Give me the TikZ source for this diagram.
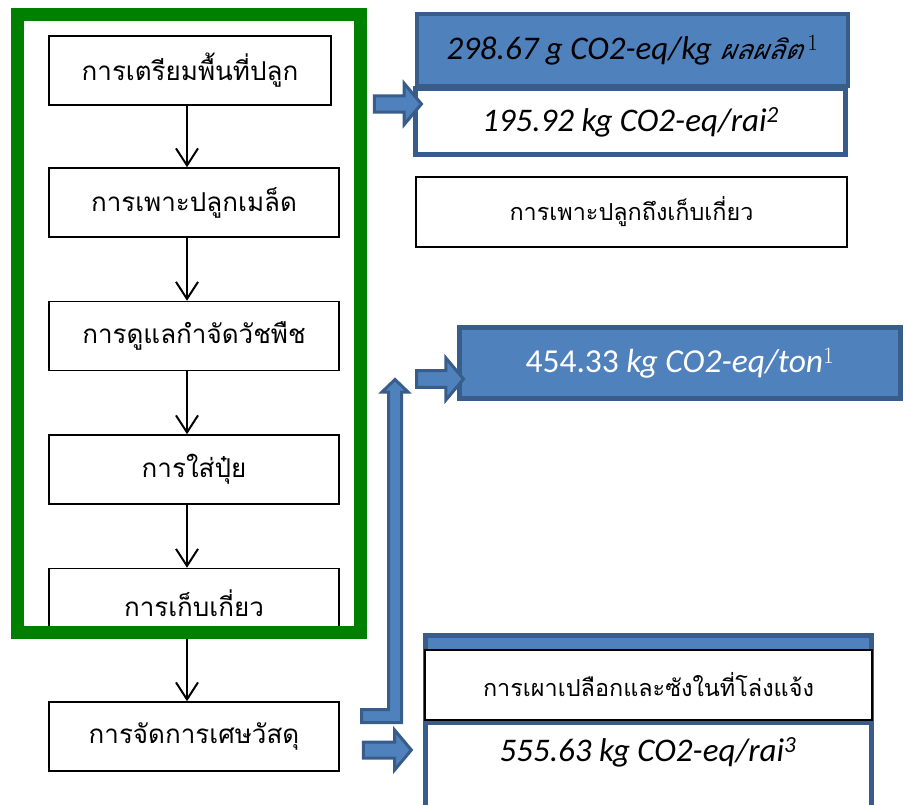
\documentclass[tikz,border=0pt]{standalone}
\usepackage{fontspec}
\newfontfamily\thaifont[Script=Thai]{Loma}
\newfontfamily\thaislant[Script=Thai,FakeSlant=0.2]{Loma}
\newfontfamily\valfont{Carlito}
\usepackage{xcolor}
\definecolor{cBlue}{HTML}{4F81BD}
\definecolor{cBlueDark}{HTML}{385D8A}
\definecolor{cGreen}{HTML}{008000}
\usepackage{tikz}
\usetikzlibrary{positioning,arrows.meta,shapes.arrows}
\tikzset{
  node-step/.style={draw=black,line width=1.5pt,fill=white,inner sep=0pt,
    minimum width=290pt,minimum height=69pt,
    font=\thaifont\fontsize{26}{30}\selectfont},
  node-label/.style={draw=black,line width=1.5pt,fill=white,inner sep=0pt,
    minimum width=431pt,minimum height=70pt,
    font=\thaifont\fontsize{23.4}{28}\selectfont},
  node-value/.style={draw=cBlueDark,line width=5pt,inner sep=0pt,
    font=\valfont\fontsize{33}{38}\selectfont},
  node-frame/.style={draw=cGreen,line width=13pt,inner sep=0pt},
  arrow/.style={-{Straight Barb[length=17pt,width=22pt,line width=2pt]},line width=2pt},
  arrow-block/.style={single arrow,draw=cBlueDark,fill=cBlue,line width=3pt,
    inner sep=6.5pt,single arrow head extend=12pt,single arrow tip angle=100,
    single arrow head indent=0pt},
}
\begin{document}
\begin{tikzpicture}[x=1pt,y=-1pt,node distance=63pt]
  \useasboundingbox (0,0) rectangle (905,805);
  \clip (0,0) rectangle (905,805);
  \coordinate (axis) at (187,0);
  % process steps
  \node[node-step,minimum width=282pt] (prep) at (190,70.5) {การเตรียมพื้นที่ปลูก};
  \node[node-step] (sow) at (194,202.5) {การเพาะปลูกเมล็ด};
  \node[node-step,below=of sow] (weed) {การดูแลกำจัดวัชพืช};
  \node[node-step,below=of weed] (fert) {การใส่ปุ๋ย};
  \node[node-step,below=of fert] (harv) {การเก็บเกี่ยว};
  \node[node-step,below=of harv] (resid) {การจัดการเศษวัสดุ};
  \foreach \a/\b in {prep/sow,sow/weed,weed/fert,fert/harv,harv/resid}
    \draw[arrow] (\a.south -| axis) -- (\b.north -| axis);
  \node[node-frame,minimum width=343pt,minimum height=617.5pt] (grow) at (189,323.75) {};
  % results
  \node[node-value,fill=white,minimum width=430pt,minimum height=66pt] (perrai) at (630.5,122)
       {\itshape 195.92 kg CO2-eq/rai\textsuperscript{2}};
  \node[node-value,line width=4pt,fill=cBlue,minimum width=431pt,minimum height=72pt] (perkg) at (632.5,50)
       {\itshape 298.67 g CO2-eq/kg {\thaislant\fontsize{27}{32}\selectfont ผลผลิต}\,\textsuperscript{\upshape\rmfamily 1}};
  \node[node-label] (scope) at (631.5,212) {การเพาะปลูกถึงเก็บเกี่ยว};
  \node[node-value,fill=cBlue,text=white,minimum width=441pt,minimum height=71pt,
        font=\valfont\fontsize{33.5}{40}\selectfont] (perton) at (680,363)
       {454.33 \itshape kg CO2-eq/ton\textsuperscript{\upshape\rmfamily 1}};
  \node[node-value,fill=cBlue,minimum width=446pt,minimum height=190pt] (burn) at (648.5,730.5) {};
  \node[node-value,fill=white,minimum width=446pt,minimum height=100pt] (burnval) at (648.5,772) {};
  \node[node-label,line width=2pt,minimum width=447pt] (burnlbl) at (648.5,685) {การเผาเปลือกและซังในที่โล่งแจ้ง};
  \node[font=\valfont\itshape\fontsize{33}{38}\selectfont] (burntxt) at (648,752) {555.63 kg CO2-eq/rai\textsuperscript{3}};
  % block arrows
  \node[arrow-block,minimum height=47pt,minimum width=41pt] (toperkg) at (394.5,104) {};
  \node[arrow-block,minimum height=47pt,minimum width=42pt] (toperton) at (436.5,379) {};
  \node[arrow-block,minimum height=48pt,minimum width=40pt] (toburn) at (384,750) {};
  \draw[draw=cBlueDark,fill=cBlue,line width=3pt,line join=miter]
    (361.5,709.5) -- (388.5,709.5) -- (388.5,392) -- (382,392) -- (395,379.5)
    -- (408,392) -- (401.5,392) -- (401.5,722.5) -- (361.5,722.5) -- cycle;
\end{tikzpicture}
\end{document}
